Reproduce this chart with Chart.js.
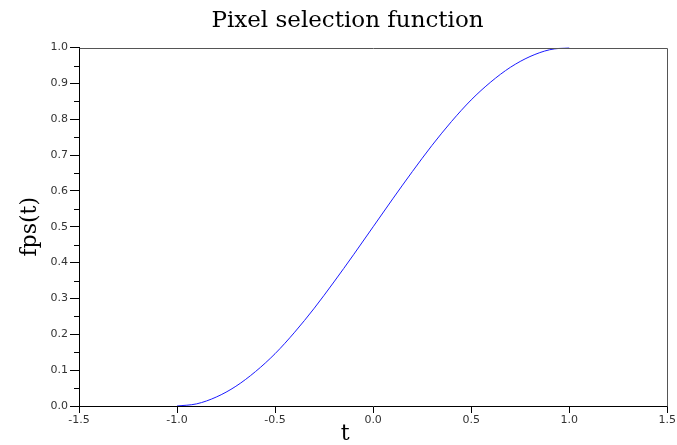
<!DOCTYPE html>
<html>
<head>
<meta charset="utf-8">
<script src="https://cdn.jsdelivr.net/npm/chart.js@4.4.1/dist/chart.umd.min.js"></script>
<style>
  html, body { margin: 0; padding: 0; background: #ffffff; }
  #wrap { width: 677px; height: 445px; }
</style>
</head>
<body>
<div id="wrap"><canvas id="c" width="677" height="445"></canvas></div>
<script>
// Data
const tValues = [-1.0, -0.9, -0.8, -0.7, -0.6, -0.5, -0.4, -0.3, -0.2, -0.1, 0.0,
                 0.1, 0.2, 0.3, 0.4, 0.5, 0.6, 0.7, 0.8, 0.9, 1.0];
const fpsValues = [0.000, 0.006, 0.025, 0.055, 0.096, 0.146, 0.206, 0.273, 0.346, 0.422, 0.500,
                   0.578, 0.654, 0.727, 0.794, 0.854, 0.904, 0.945, 0.975, 0.994, 1.000];
const xTickValues = [-1.5, -1.0, -0.5, 0.0, 0.5, 1.0, 1.5];
const yTickValues = [0.0, 0.1, 0.2, 0.3, 0.4, 0.5, 0.6, 0.7, 0.8, 0.9, 1.0];
const yMinorTickValues = [0.05, 0.15, 0.25, 0.35, 0.45, 0.55, 0.65, 0.75, 0.85, 0.95];
const chartTitle = 'Pixel selection function';
const xTitle = 't';
const yTitle = 'fps(t)';

const points = tValues.map((t, i) => ({ x: t, y: fpsValues[i] }));

const framePlugin = {
  id: 'frame',
  afterDraw(chart) {
    const { ctx, chartArea: a, scales } = chart;
    ctx.save();
    // top and right frame
    ctx.strokeStyle = '#555555';
    ctx.lineWidth = 1;
    ctx.beginPath();
    ctx.moveTo(Math.round(a.left) + 0.5, Math.round(a.top) + 0.5);
    ctx.lineTo(Math.round(a.right) + 0.5, Math.round(a.top) + 0.5);
    ctx.lineTo(Math.round(a.right) + 0.5, Math.round(a.bottom) + 0.5);
    ctx.stroke();
    // minor y ticks
    ctx.strokeStyle = '#000000';
    ctx.beginPath();
    yMinorTickValues.forEach(v => {
      const py = Math.round(scales.y.getPixelForValue(v)) + 0.5;
      ctx.moveTo(a.left - 5, py);
      ctx.lineTo(a.left, py);
    });
    ctx.stroke();
    ctx.restore();
  }
};

new Chart(document.getElementById('c'), {
  type: 'line',
  data: {
    datasets: [{
      data: points,
      borderColor: '#1a1aff',
      borderWidth: 1,
      pointRadius: 0,
      fill: false,
      cubicInterpolationMode: 'monotone'
    }]
  },
  options: {
    responsive: false,
    animation: false,
    devicePixelRatio: 1,
    layout: { padding: { left: 24, right: 6, top: 4, bottom: 0 } },
    plugins: {
      legend: { display: false },
      tooltip: { enabled: false },
      title: {
        display: true,
        text: chartTitle,
        color: '#000000',
        font: { family: 'DejaVu Serif', size: 23, weight: 'normal', lineHeight: 1.2 },
        padding: { top: 3, bottom: 13 }
      }
    },
    scales: {
      x: {
        type: 'linear',
        min: -1.5,
        max: 1.5,
        afterBuildTicks(scale) { scale.ticks = xTickValues.map(v => ({ value: v })); },
        afterFit(scale) { scale.height = 39; },
        ticks: {
          color: '#333333',
          font: { family: 'DejaVu Sans', size: 11 },
          padding: 1,
          maxRotation: 0,
          callback: v => Number(v).toFixed(1)
        },
        grid: { display: true, drawOnChartArea: false, tickLength: 7, color: '#000000' },
        border: { display: true, color: '#000000', width: 1 },
        title: {
          display: true,
          text: xTitle + '        ',
          color: '#000000',
          font: { family: 'DejaVu Serif', size: 22, weight: 'normal', lineHeight: 1.0 },
          padding: { top: 0, bottom: 0 }
        }
      },
      y: {
        type: 'linear',
        min: 0,
        max: 1,
        afterBuildTicks(scale) { scale.ticks = yTickValues.map(v => ({ value: v })); },
        afterFit(scale) { scale.width = 55; },
        ticks: {
          color: '#333333',
          font: { family: 'DejaVu Sans', size: 11 },
          padding: 2,
          callback: v => Number(v).toFixed(1)
        },
        grid: { display: true, drawOnChartArea: false, tickLength: 9, color: '#000000' },
        border: { display: true, color: '#000000', width: 1 },
        title: {
          display: true,
          text: yTitle,
          color: '#000000',
          font: { family: 'DejaVu Serif', size: 22, weight: 'normal', lineHeight: 0.6 },
          padding: { top: 0, bottom: 0 }
        }
      }
    }
  },
  plugins: [framePlugin]
});
</script>
</body>
</html>
